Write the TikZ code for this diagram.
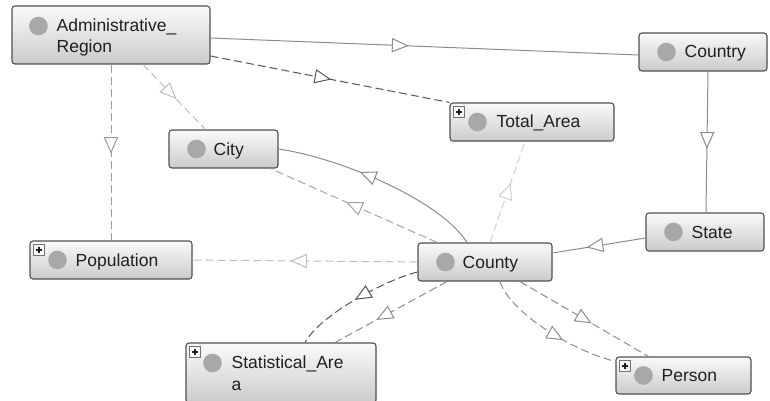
\documentclass[tikz,border=0pt]{standalone}
\usepackage{fontspec}
\setmainfont{Liberation Sans}
\usetikzlibrary{decorations.markings,calc}

\definecolor{boxline}{HTML}{505050}
\definecolor{boxtop}{HTML}{FAFAFA}
\definecolor{boxbot}{HTML}{CBCBCB}
\definecolor{dotgray}{HTML}{A8A8A8}
\definecolor{txt}{HTML}{202020}
\definecolor{edgeA}{HTML}{8C8C8C}
\definecolor{edgeDark}{HTML}{555555}
\definecolor{edgeMid}{HTML}{9A9A9A}
\definecolor{edgeLight}{HTML}{BDBDBD}
\definecolor{edgePale}{HTML}{CFCFCF}

\begin{document}
\begin{tikzpicture}[x=1pt,y=-1pt,
  cls/.style={draw=boxline, line width=1.1pt, rounded corners=3pt,
    top color=boxtop, bottom color=boxbot, minimum height=38pt, inner sep=0pt},
  lbl/.style={text=txt, inner sep=0pt, anchor=base west,
    font=\fontsize{17.5}{20}\selectfont},
  dot/.style={fill=dotgray},
  plusbox/.style={draw=boxline!80, fill=boxtop, line width=0.6pt},
  edge/.style={line width=1pt},
  dashline/.style={edge, dash pattern=on 8pt off 4pt},
  % open triangle head placed part way along a connector, tip at the mark
  mid/.style={postaction={decorate}, decoration={markings,
    mark=at position #1 with {\draw[solid, fill=white, line width=1pt, line join=miter]
      (0,0) -- (-15,6.5) -- (-15,-6.5) -- cycle;}}}
]
\useasboundingbox (0,0) rectangle (770,401);
\clip (0,0) rectangle (770,401);

% class boxes
\node[cls, minimum width=198pt, minimum height=58pt] (adm) at (111,35) {};
\node[cls, minimum width=128pt] (country) at (703,52) {};
\node[cls, minimum width=118pt] (state) at (705,232) {};
\node[cls, minimum width=164pt] (total) at (532,122) {};
\node[cls, minimum width=109pt] (city) at (223.5,149) {};
\node[cls, minimum width=162pt] (pop) at (111,260) {};
\node[cls, minimum width=134pt] (county) at (485,262) {};
\node[cls, minimum width=190pt, minimum height=60pt] (stat) at (281,373) {};
\node[cls, minimum width=135pt, minimum height=37pt] (person) at (683.5,375.5) {};

% class markers
\fill[dot] ($(adm.west)+(27,-9)$) circle (9.3);
\fill[dot] ($(stat.west)+(27,-10)$) circle (9.3);
\foreach \n in {country,state,total,city,pop,county,person}
  \fill[dot] ($(\n.west)+(28,0)$) circle (9.3);

% expand markers
\foreach \n in {total,pop,stat,person}{
  \draw[plusbox] ($(\n.north west)+(4,4)$) rectangle ($(\n.north west)+(15,15)$);
  \draw[line width=1.3pt, txt] ($(\n.north west)+(6.5,9.5)$) -- ($(\n.north west)+(12.5,9.5)$);
  \draw[line width=1.3pt, txt] ($(\n.north west)+(9.5,6.5)$) -- ($(\n.north west)+(9.5,12.5)$);
}

% labels
\node[lbl] (admA) at ($(adm.west)+(45,-3)$) {Administrative\_};
\node[lbl] (admB) at ($(adm.west)+(45,18)$) {Region};
\node[lbl] (countryT) at ($(country.west)+(46,6)$) {Country};
\node[lbl] (stateT) at ($(state.west)+(46,6)$) {State};
\node[lbl] (totalT) at ($(total.west)+(47,6)$) {Total\_Area};
\node[lbl] (cityT) at ($(city.west)+(45,6)$) {City};
\node[lbl] (popT) at ($(pop.west)+(46,6)$) {Population};
\node[lbl] (countyT) at ($(county.west)+(45,6)$) {County};
\node[lbl] (statA) at ($(stat.west)+(46,-5)$) {Statistical\_Are};
\node[lbl] (statB) at ($(stat.west)+(46,17)$) {a};
\node[lbl] (personT) at ($(person.west)+(46,6)$) {Person};

% connectors
\draw[edge, edgeA, mid=0.46] ([yshift=-3pt]adm.east) -- ([yshift=-3pt]country.west);
\draw[dashline, edgeDark, mid=0.5] ([yshift=-21pt]adm.east) -- (total.north west);
\draw[dashline, edgeLight, mid=0.52] ([xshift=32pt]adm.south) -- ([xshift=-18pt]city.north);
\draw[dashline, edgeMid, mid=0.5] (adm.south) -- (pop.north);
\draw[edge, edgeA, mid=0.54] ([xshift=5pt]country.south) -- ([xshift=1pt]state.north);
\draw[edge, edgeA, mid=0.62] ([yshift=-6pt]state.west) -- ([yshift=9pt]county.east);
\draw[edge, edgeA, mid=0.6] ([xshift=-18pt]county.north)
  .. controls (440,200) and (340,158) .. (city.east);
\draw[dashline, edgeMid!90, mid=0.54] ([xshift=-48pt]county.north) -- ([xshift=-8pt]city.south east);
\draw[dashline, edgePale, mid=0.58] ([xshift=5pt]county.north) -- ([xshift=-7pt]total.south);
\draw[dashline, edgeLight, mid=0.56] (county.west) -- (pop.east);
\draw[dashline, edgeDark, mid=0.5] ([yshift=-10pt]county.west)
  .. controls (385,280) and (320,315) .. ([xshift=24pt]stat.north);
\draw[dashline, edgeA, mid=0.62] ([xshift=-38pt]county.south) -- ([xshift=54pt]stat.north);
\draw[dashline, edgeA, mid=0.55] ([xshift=35pt]county.south) -- ([xshift=-35pt]person.north);
\draw[dashline, edgeA, mid=0.6] ([xshift=15pt]county.south)
  .. controls (510,312) and (570,350) .. ([yshift=-5pt]person.north west);
\end{tikzpicture}
\end{document}
